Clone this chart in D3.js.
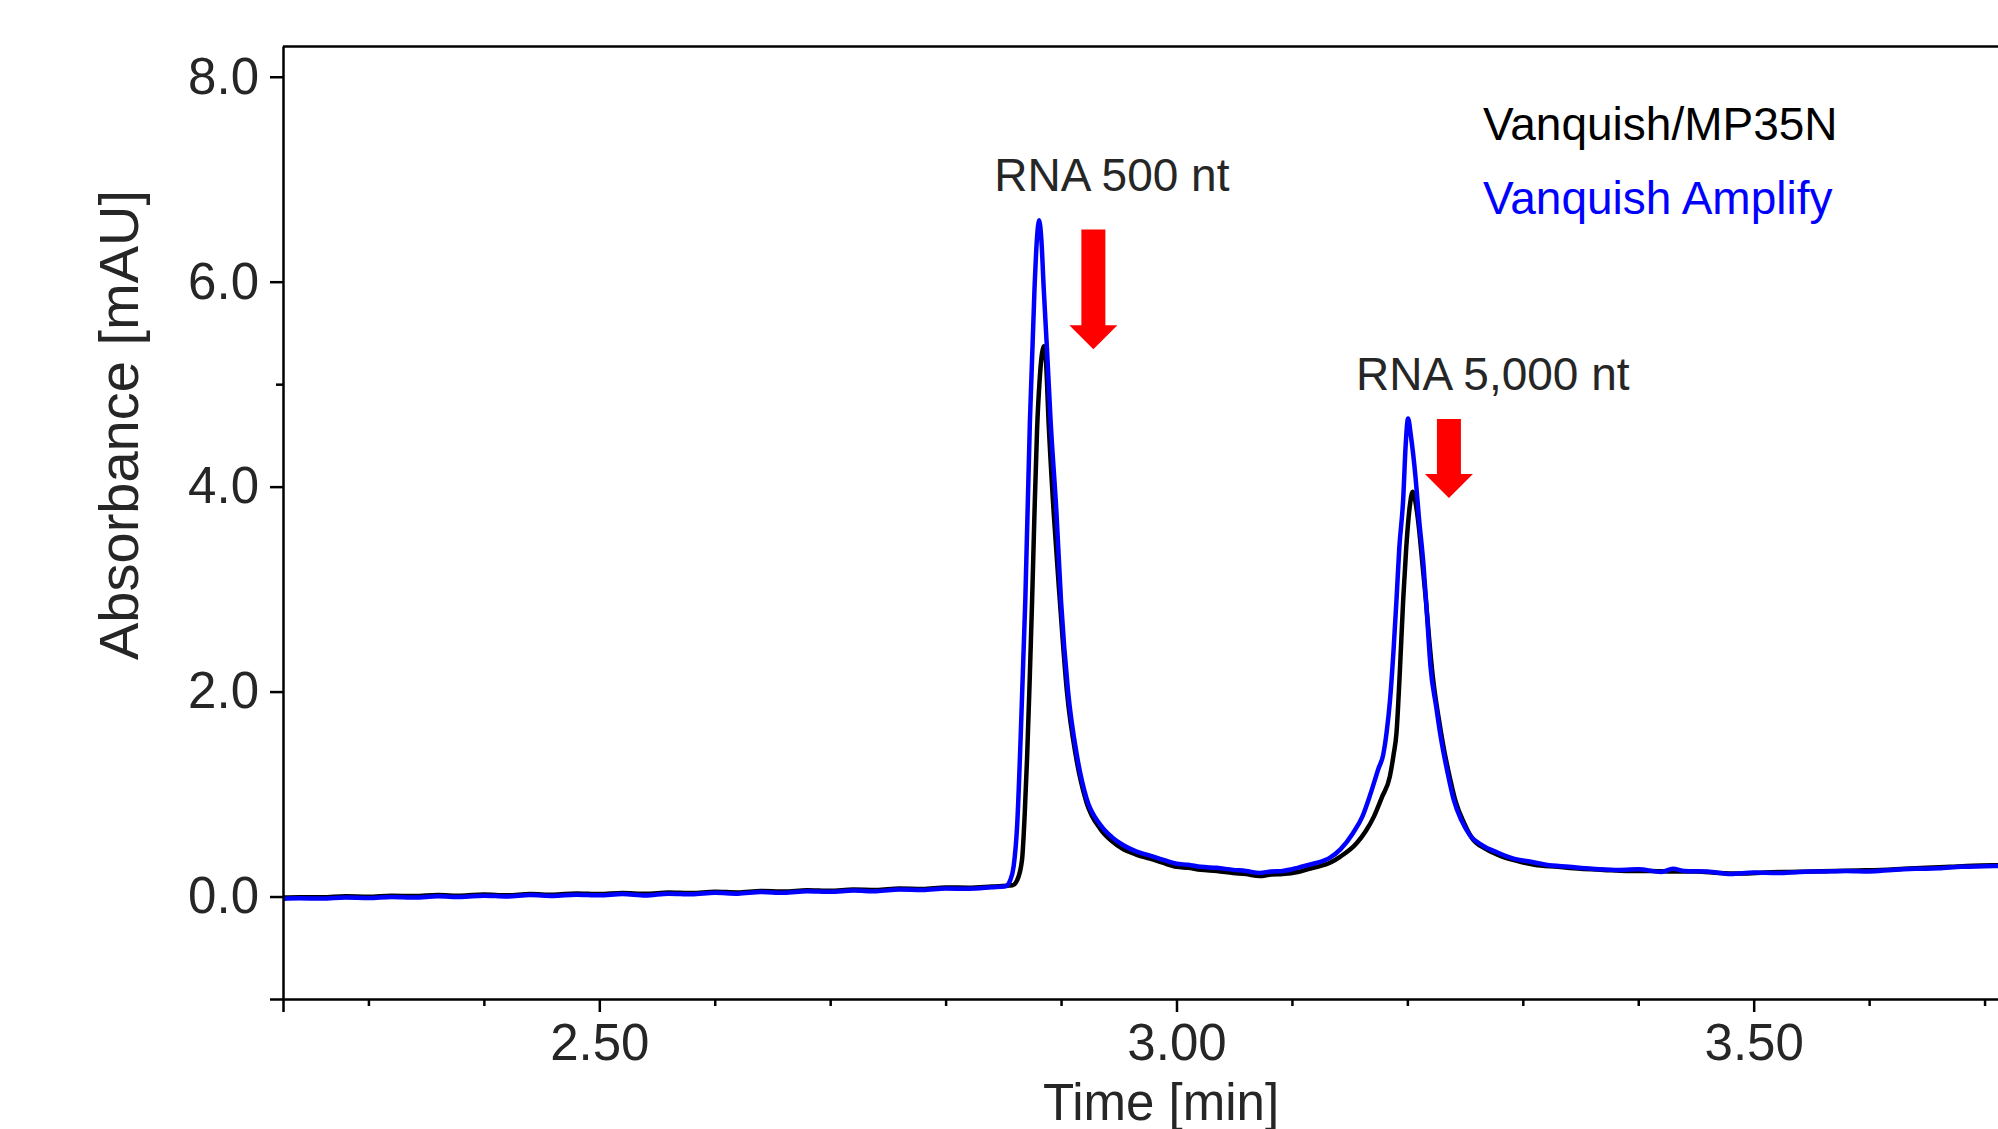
<!DOCTYPE html>
<html>
<head>
<meta charset="utf-8">
<script src="https://cdn.jsdelivr.net/npm/d3@7"></script>
<style>
  html, body { margin: 0; padding: 0; background: #fff; }
  svg { display: block; }
</style>
</head>
<body>
<svg id="chart" width="1998" height="1129"></svg>
<script>
// chromatograms: [time (min), absorbance (mAU)]
const mp35n = [
  [2.226, -0.010], [2.24, -0.006], [2.26, -0.008], [2.28, 0.002], [2.30, -0.002], [2.32, 0.008],
  [2.34, 0.004], [2.36, 0.014], [2.38, 0.008], [2.40, 0.020], [2.42, 0.012], [2.44, 0.024],
  [2.46, 0.018], [2.48, 0.030], [2.50, 0.024], [2.52, 0.034], [2.54, 0.026], [2.56, 0.040],
  [2.58, 0.034], [2.60, 0.046], [2.62, 0.040], [2.64, 0.054], [2.66, 0.048], [2.68, 0.062],
  [2.70, 0.056], [2.72, 0.068], [2.74, 0.064], [2.76, 0.078], [2.78, 0.074], [2.80, 0.088],
  [2.82, 0.086], [2.84, 0.098], [2.858, 0.110],
  [2.862, 0.16], [2.8662, 0.36], [2.8685, 0.80], [2.8706, 1.36], [2.8728, 2.10], [2.8749, 2.88],
  [2.877, 3.75], [2.8792, 4.55], [2.8815, 5.05], [2.8835, 5.30], [2.885, 5.37], [2.8868, 5.25],
  [2.8892, 4.63], [2.8936, 3.75], [2.899, 2.88], [2.905, 2.01], [2.913, 1.36], [2.922, 0.92],
  [2.934, 0.66], [2.944, 0.54], [2.954, 0.46], [2.965, 0.41], [2.977, 0.37], [2.988, 0.33],
  [3.000, 0.29], [3.010, 0.28], [3.021, 0.26], [3.035, 0.25], [3.049, 0.23], [3.060, 0.22],
  [3.072, 0.20], [3.082, 0.215], [3.092, 0.22], [3.105, 0.24], [3.115, 0.27], [3.122, 0.29],
  [3.133, 0.33], [3.142, 0.39], [3.156, 0.52], [3.164, 0.64], [3.171, 0.78], [3.178, 0.97],
  [3.1848, 1.17], [3.188, 1.38], [3.1906, 1.60], [3.1935, 2.20], [3.1964, 2.90], [3.199, 3.40],
  [3.2021, 3.81], [3.2046, 3.95], [3.207, 3.85], [3.210, 3.60], [3.213, 3.25], [3.216, 2.90],
  [3.219, 2.50], [3.222, 2.15], [3.227, 1.75], [3.231, 1.48], [3.237, 1.15], [3.242, 0.92],
  [3.249, 0.72], [3.256, 0.57], [3.267, 0.47], [3.280, 0.40], [3.294, 0.35], [3.310, 0.31],
  [3.33, 0.29], [3.35, 0.27], [3.37, 0.26], [3.39, 0.25], [3.41, 0.25], [3.43, 0.245],
  [3.45, 0.245], [3.47, 0.23], [3.49, 0.225], [3.51, 0.235], [3.53, 0.24], [3.55, 0.245],
  [3.57, 0.25], [3.59, 0.255], [3.61, 0.26], [3.63, 0.27], [3.65, 0.28], [3.67, 0.29],
  [3.69, 0.30], [3.71, 0.305], [3.75, 0.31], [3.80, 0.32]
];

const amplify = [
  [2.226, -0.022], [2.24, -0.018], [2.26, -0.020], [2.28, -0.010], [2.30, -0.014], [2.32, -0.004],
  [2.34, -0.010], [2.36, 0.002], [2.38, -0.004], [2.40, 0.008], [2.42, 0.000], [2.44, 0.014],
  [2.46, 0.006], [2.48, 0.018], [2.50, 0.012], [2.52, 0.024], [2.54, 0.010], [2.56, 0.028],
  [2.58, 0.022], [2.60, 0.036], [2.62, 0.028], [2.64, 0.044], [2.66, 0.036], [2.68, 0.052],
  [2.70, 0.046], [2.72, 0.058], [2.74, 0.052], [2.76, 0.068], [2.78, 0.064], [2.80, 0.078],
  [2.82, 0.076], [2.84, 0.090], [2.852, 0.100],
  [2.856, 0.16], [2.859, 0.30], [2.862, 0.70], [2.865, 1.55], [2.869, 2.88], [2.873, 4.63],
  [2.877, 5.93], [2.879, 6.40], [2.881, 6.60], [2.883, 6.40], [2.885, 5.93], [2.888, 5.30],
  [2.891, 4.63], [2.896, 3.75], [2.900, 2.88], [2.906, 2.01], [2.914, 1.36], [2.922, 0.96],
  [2.934, 0.70], [2.944, 0.58], [2.954, 0.50], [2.965, 0.44], [2.977, 0.40], [2.988, 0.36],
  [3.000, 0.32], [3.010, 0.31], [3.021, 0.29], [3.035, 0.28], [3.049, 0.26], [3.060, 0.25],
  [3.072, 0.23], [3.082, 0.245], [3.092, 0.25], [3.105, 0.28], [3.115, 0.31], [3.122, 0.33],
  [3.133, 0.38], [3.142, 0.46], [3.153, 0.62], [3.161, 0.78], [3.168, 1.00], [3.175, 1.25],
  [3.179, 1.38], [3.182, 1.60], [3.185, 1.92], [3.188, 2.40], [3.1906, 2.90], [3.193, 3.40],
  [3.1964, 3.88], [3.1985, 4.40], [3.2006, 4.665], [3.203, 4.50], [3.207, 4.10], [3.210, 3.70],
  [3.214, 3.23], [3.217, 2.75], [3.220, 2.25], [3.225, 1.85], [3.229, 1.55], [3.235, 1.20],
  [3.240, 0.95], [3.247, 0.74], [3.254, 0.60], [3.265, 0.50], [3.278, 0.43], [3.292, 0.37],
  [3.307, 0.34], [3.32, 0.31], [3.34, 0.29], [3.36, 0.27], [3.38, 0.26], [3.40, 0.265],
  [3.42, 0.24], [3.43, 0.27], [3.44, 0.25], [3.46, 0.245], [3.48, 0.22], [3.50, 0.235],
  [3.52, 0.23], [3.54, 0.24], [3.56, 0.245], [3.58, 0.25], [3.60, 0.245], [3.62, 0.26],
  [3.64, 0.27], [3.66, 0.275], [3.68, 0.29], [3.70, 0.295], [3.72, 0.30], [3.75, 0.31],
  [3.80, 0.32]
];

const yMajorTicks = [0, 2, 4, 6, 8];
const yMinorTicks = [5];
const xMajorTicks = [2.5, 3.0, 3.5];
const xMinorTicks = [2.3, 2.4, 2.6, 2.7, 2.8, 2.9, 3.1, 3.2, 3.3, 3.4, 3.6, 3.7];

const series = [
  {name: "Vanquish/MP35N", color: "#000000", values: mp35n},
  {name: "Vanquish Amplify", color: "#0000ff", values: amplify}
];

// peak annotations: label position and red arrow (time, start, tip)
const peakLabels = [
  {text: "RNA 500 nt", t: 2.944, v: 6.885},
  {text: "RNA 5,000 nt", t: 3.274, v: 4.943}
];
const peakArrows = [
  {t: 2.928, from: 6.51, to: 5.34},
  {t: 3.236, from: 4.66, to: 3.89}
];

const font = "'Liberation Sans', Arial, Helvetica, sans-serif";
const svg = d3.select("#chart");

const plotLeft = 283, plotTop = 46, plotBottom = 999, plotRight = 2100;

const x = d3.scaleLinear().domain([2.226, 3.80]).range([plotLeft, plotRight]);
const y = d3.scaleLinear().domain([-1, 8.3]).range([plotBottom, plotTop]);

svg.append("rect").attr("width", 1998).attr("height", 1129).attr("fill", "#fff");

svg.append("defs").append("clipPath")
    .attr("id", "plot-clip")
    .append("rect")
    .attr("x", plotLeft)
    .attr("y", plotTop)
    .attr("width", plotRight - plotLeft)
    .attr("height", plotBottom - plotTop);

// traces, black first so blue sits on top
const line = d3.line()
    .x(d => x(d[0]))
    .y(d => y(d[1]))
    .curve(d3.curveMonotoneX);

svg.append("g")
    .attr("clip-path", "url(#plot-clip)")
    .selectAll("path")
    .data(series)
    .join("path")
    .attr("fill", "none")
    .attr("stroke", d => d.color)
    .attr("stroke-width", 4.5)
    .attr("stroke-linejoin", "round")
    .attr("d", d => line(d.values));

// frame top
svg.append("line")
    .attr("x1", plotLeft).attr("x2", plotRight)
    .attr("y1", plotTop + 0.5).attr("y2", plotTop + 0.5)
    .attr("stroke", "#000")
    .attr("stroke-width", 2.5);

// y axis
svg.append("g")
    .attr("transform", `translate(${plotLeft},0)`)
    .call(d3.axisLeft(y)
        .tickValues([-1, ...yMajorTicks])
        .tickSize(13)
        .tickSizeOuter(0)
        .tickPadding(11)
        .tickFormat(d => d < 0 ? "" : d3.format(".1f")(d)));

svg.append("g")
    .attr("transform", `translate(${plotLeft},0)`)
    .call(d3.axisLeft(y).tickValues(yMinorTicks).tickSize(7).tickFormat(""))
    .call(g => g.select(".domain").remove());

// x axis
svg.append("g")
    .attr("transform", `translate(0,${plotBottom})`)
    .call(d3.axisBottom(x)
        .tickValues(xMajorTicks)
        .tickSize(13)
        .tickSizeOuter(13)
        .tickPadding(12)
        .tickFormat(d3.format(".2f")));

svg.append("g")
    .attr("transform", `translate(0,${plotBottom})`)
    .call(d3.axisBottom(x).tickValues(xMinorTicks).tickSize(7).tickFormat(""))
    .call(g => g.select(".domain").remove());

svg.selectAll(".domain, .tick line")
    .attr("stroke", "#000")
    .attr("stroke-width", 2.5);

svg.selectAll(".tick text")
    .attr("font-family", font)
    .attr("font-size", 51)
    .attr("fill", "#262626");

// axis titles
svg.append("text")
    .attr("transform", "translate(138,425) rotate(-90)")
    .attr("text-anchor", "middle")
    .attr("font-family", font)
    .attr("font-size", 56)
    .attr("fill", "#262626")
    .text("Absorbance [mAU]");

// sits at the bottom edge, cut off just like in the source figure
svg.append("text")
    .attr("x", 1161)
    .attr("y", 1120)
    .attr("text-anchor", "middle")
    .attr("font-family", font)
    .attr("font-size", 51)
    .attr("fill", "#262626")
    .text("Time [min]");

// peak labels
svg.append("g")
    .selectAll("text")
    .data(peakLabels)
    .join("text")
    .attr("x", d => x(d.t))
    .attr("y", d => y(d.v))
    .attr("text-anchor", "middle")
    .attr("font-family", font)
    .attr("font-size", 46)
    .attr("fill", "#262626")
    .text(d => d.text);

// red arrows
const shaftHalf = 12, headHalf = 24, headLen = 24;
svg.append("g")
    .selectAll("polygon")
    .data(peakArrows)
    .join("polygon")
    .attr("fill", "#ff0000")
    .attr("points", d => {
        const cx = x(d.t), y0 = y(d.from), y1 = y(d.to), yb = y1 - headLen;
        return [
            [cx - shaftHalf, y0], [cx + shaftHalf, y0], [cx + shaftHalf, yb],
            [cx + headHalf, yb], [cx, y1], [cx - headHalf, yb], [cx - shaftHalf, yb]
        ].join(" ");
    });

// legend
svg.append("g")
    .selectAll("text")
    .data(series)
    .join("text")
    .attr("x", 1483)
    .attr("y", (d, i) => 140 + i * 74)
    .attr("font-family", font)
    .attr("font-size", 46)
    .attr("fill", d => d.color)
    .text(d => d.name);
</script>
</body>
</html>
